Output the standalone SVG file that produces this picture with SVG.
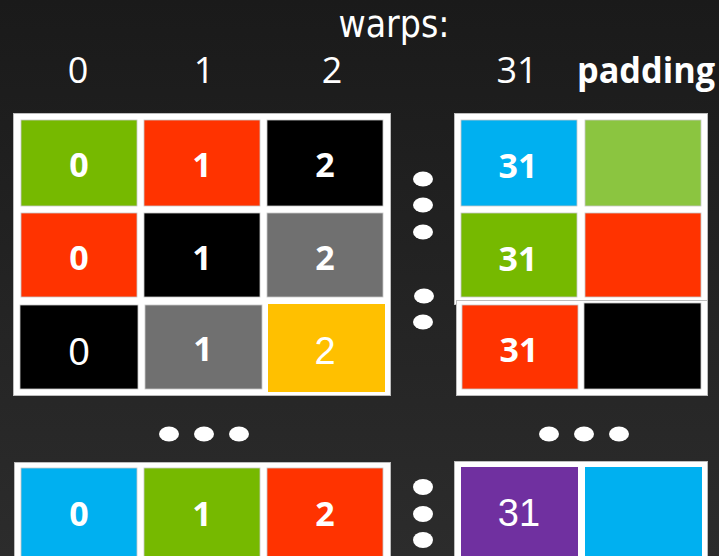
<svg xmlns="http://www.w3.org/2000/svg" width="719" height="556" viewBox="0 0 719 556">
<defs>
<linearGradient id="bg" x1="0" y1="0" x2="0" y2="1">
<stop offset="0" stop-color="#1a1a1a"/>
<stop offset="1" stop-color="#2c2c2c"/>
</linearGradient>
</defs>
<style>
.frame{fill:#ffffff;stroke:#bdbdbd;stroke-width:1}
.cell{stroke:#c8c8c8;stroke-width:0.8}
.hdr{font-family:"Open Sans","DejaVu Sans",sans-serif;font-size:36px;fill:#ffffff;text-anchor:middle}
.hb{font-family:"Open Sans","DejaVu Sans",sans-serif;font-size:35px;font-weight:bold;fill:#ffffff}
.lb{font-family:"Open Sans","DejaVu Sans",sans-serif;font-size:34px;font-weight:bold;fill:#ffffff;text-anchor:middle}
.ln{font-family:"Liberation Sans",Arial,sans-serif;font-size:38px;fill:#ffffff;text-anchor:middle}
.dot{fill:#ffffff}
.g{fill:#76b900}.r{fill:#ff3300}.k{fill:#000000}.gr{fill:#707070}.y{fill:#ffc000}.b{fill:#00b0f0}.lg{fill:#8bc540}.p{fill:#7030a0}
</style>
<rect x="0" y="0" width="719" height="556" fill="url(#bg)"/>

<g id="header">
<text x="394" y="37" font-family="'DejaVu Sans',sans-serif" font-size="38" fill="#ffffff" text-anchor="middle" textLength="111" lengthAdjust="spacingAndGlyphs">warps:</text>
<text class="hdr" x="78" y="83">0</text>
<text class="hdr" x="204" y="83">1</text>
<text class="hdr" x="332" y="83">2</text>
<text class="hdr" x="517" y="83">31</text>
<text class="hb" x="577" y="83" textLength="138" lengthAdjust="spacingAndGlyphs">padding</text>
</g>

<g id="frames">
<rect class="frame" x="13.5" y="113.5" width="377" height="282"/>
<rect class="frame" x="454.5" y="113.5" width="253" height="191"/>
<rect class="frame" x="456.5" y="300.5" width="251" height="95"/>
<rect class="frame" x="14.5" y="462.5" width="376" height="100"/>
<rect class="frame" x="454.5" y="461.5" width="253" height="100"/>
</g>

<g id="cell-r1-c0"><rect class="cell g" x="21" y="120" width="116" height="86"/><text class="lb" x="79" y="177">0</text></g>
<g id="cell-r1-c1"><rect class="cell r" x="144" y="120" width="116" height="86"/><text class="lb" x="202" y="177">1</text></g>
<g id="cell-r1-c2"><rect class="cell k" x="267" y="120" width="116" height="86"/><text class="lb" x="325" y="177">2</text></g>
<g id="cell-r1-c31"><rect class="cell b" x="461" y="120" width="116" height="86"/><text class="lb" x="518" y="178" font-size="38">31</text></g>
<g id="cell-r1-pad"><rect class="cell lg" x="585" y="120" width="116" height="86"/></g>

<g id="cell-r2-c0"><rect class="cell r" x="21" y="213" width="116" height="84"/><text class="lb" x="79" y="270">0</text></g>
<g id="cell-r2-c1"><rect class="cell k" x="144" y="213" width="116" height="84"/><text class="lb" x="202" y="270">1</text></g>
<g id="cell-r2-c2"><rect class="cell gr" x="267" y="213" width="116" height="84"/><text class="lb" x="325" y="270">2</text></g>
<g id="cell-r2-c31"><rect class="cell g" x="461" y="213" width="116" height="84"/><text class="lb" x="518" y="271" font-size="38">31</text></g>
<g id="cell-r2-pad"><rect class="cell r" x="585" y="213" width="116" height="84"/></g>

<g id="cell-r3-c0"><rect class="cell k" x="20" y="305" width="118" height="84"/><text class="ln" x="79" y="365">0</text></g>
<g id="cell-r3-c1"><rect class="cell gr" x="145" y="305" width="117" height="84"/><text class="lb" x="203" y="361" font-size="37">1</text></g>
<g id="cell-r3-c2"><rect x="268" y="304" width="117" height="88" class="y"/><text class="ln" x="325" y="364">2</text></g>
<g id="cell-r3-c31"><rect class="cell r" x="462" y="305" width="116" height="84"/><text class="lb" x="519" y="362" font-size="38">31</text></g>
<g id="cell-r3-pad"><rect class="cell k" x="584" y="303" width="117" height="86"/></g>

<g id="cell-rn-c0"><rect class="cell b" x="21" y="468" width="116" height="95"/><text class="lb" x="79" y="526" font-size="36">0</text></g>
<g id="cell-rn-c1"><rect class="cell g" x="144" y="468" width="116" height="95"/><text class="lb" x="202" y="526" font-size="36">1</text></g>
<g id="cell-rn-c2"><rect class="cell r" x="267" y="468" width="116" height="95"/><text class="lb" x="325" y="526" font-size="36">2</text></g>
<g id="cell-rn-c31"><rect class="p" x="461" y="467" width="117" height="96"/><text class="ln" x="519" y="526" font-size="39">31</text></g>
<g id="cell-rn-pad"><rect class="b" x="585" y="467" width="117" height="96"/></g>

<g id="dots">
<ellipse class="dot" cx="423" cy="179" rx="10" ry="7.5"/>
<ellipse class="dot" cx="423" cy="205" rx="10" ry="7.5"/>
<ellipse class="dot" cx="423" cy="232" rx="10" ry="7.5"/>
<ellipse class="dot" cx="424" cy="296" rx="10" ry="7.5"/>
<ellipse class="dot" cx="423" cy="322" rx="10" ry="7.5"/>
<ellipse class="dot" cx="169" cy="434" rx="10" ry="7.5"/>
<ellipse class="dot" cx="204" cy="434" rx="10" ry="7.5"/>
<ellipse class="dot" cx="239" cy="434" rx="10" ry="7.5"/>
<ellipse class="dot" cx="549" cy="434" rx="10" ry="7.5"/>
<ellipse class="dot" cx="584" cy="434" rx="10" ry="7.5"/>
<ellipse class="dot" cx="619" cy="434" rx="10" ry="7.5"/>
<ellipse class="dot" cx="423" cy="487" rx="10" ry="8"/>
<ellipse class="dot" cx="423" cy="514" rx="10" ry="8"/>
<ellipse class="dot" cx="423" cy="540" rx="10" ry="8"/>
</g>
</svg>
